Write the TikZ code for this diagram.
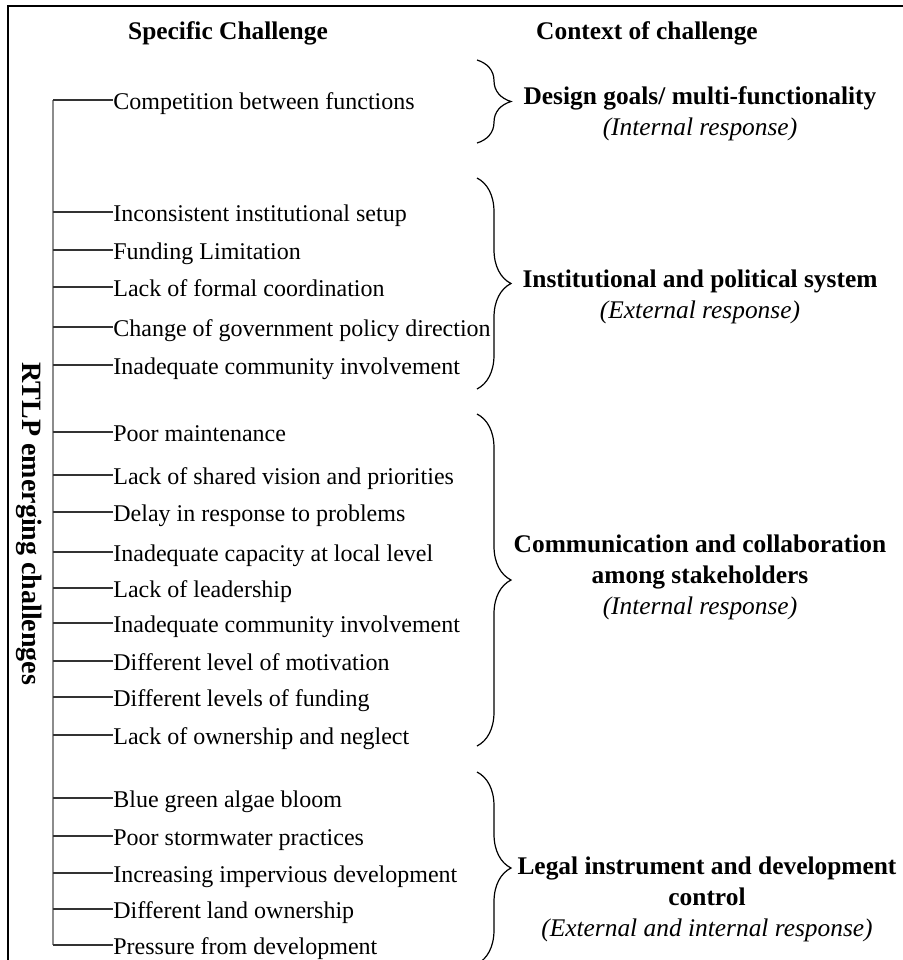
\documentclass[tikz,border=0pt]{standalone}
\usepackage{fontspec}
\setmainfont{Liberation Serif}
\usetikzlibrary{positioning, decorations.pathreplacing}

\begin{document}
\begin{tikzpicture}[
        x=0.5pt, y=-0.5pt,
        item/.style={
          anchor=west,
          inner sep=0pt,
          text height=9.4pt,
          text depth=0pt,
          font=\fontsize{12}{14}\selectfont
        },
        head/.style={
          inner sep=0pt,
          font=\fontsize{12.7}{15}\selectfont\bfseries
        },
        context/.style={
          align=center,
          inner sep=0pt,
          font=\fontsize{12.7}{15.5}\selectfont
        },
        tick/.style={
          draw=black!80,
          line width=0.6pt
        },
        trunk/.style={
          draw=black!45,
          line width=1.1pt
        },
        brace/.style={
          decorate,
          decoration={brace, amplitude=17pt, aspect=0.5},
          line width=0.6pt
        }
      ]
      \useasboundingbox (0,0) rectangle (903,960);
      \draw [line width=1pt] (8,6) rectangle (915,975);

      % Headings
      \node [head] (h1) at (228,33) {Specific Challenge};
      \node [head] (h2) at (647,33) {Context of challenge};

      % Root
      \node [head, rotate=-90, font=\fontsize{14}{16}\selectfont\bfseries] (root) at (29,524) {RTLP emerging challenges};
      \coordinate (trunk) at (53,0);

      % Challenges
      \node [item] (c1) at (113,100) {Competition between functions};
      \node [item] (c2) at (113,212) {Inconsistent institutional setup};
      \node [item] (c3) at (113,250) {Funding Limitation};
      \node [item] (c4) at (113,287) {Lack of formal coordination};
      \node [item] (c5) at (113,327) {Change of government policy direction};
      \node [item] (c6) at (113,365) {Inadequate community involvement};
      \node [item] (c7) at (113,432) {Poor maintenance};
      \node [item] (c8) at (113,475) {Lack of shared vision and priorities};
      \node [item] (c9) at (113,512) {Delay in response to problems};
      \node [item] (c10) at (113,552) {Inadequate capacity at local level};
      \node [item] (c11) at (113,588) {Lack of leadership};
      \node [item] (c12) at (113,623) {Inadequate community involvement};
      \node [item] (c13) at (113,661) {Different level of motivation};
      \node [item] (c14) at (113,697) {Different levels of funding};
      \node [item] (c15) at (113,735) {Lack of ownership and neglect};
      \node [item] (c16) at (113,798) {Blue green algae bloom};
      \node [item] (c17) at (113,836) {Poor stormwater practices};
      \node [item] (c18) at (113,873) {Increasing impervious development};
      \node [item] (c19) at (113,909) {Different land ownership};
      \node [item] (c20) at (113,945) {Pressure from development};

      % Tree
      \draw [trunk] (c1.west -| trunk) -- (c20.west -| trunk);
      \foreach \i in {1,...,20}
        \draw [tick] (c\i.west -| trunk) -- (c\i.west);

      % Contexts
      \node [context] (k1) at (700,114) {\textbf{Design goals/ multi-functionality}\\\textit{(Internal response)}};
      \node [context] (k2) at (700,297) {\textbf{Institutional and political system}\\\textit{(External response)}};
      \node [context] (k3) at (700,577) {\textbf{Communication and collaboration}\\\textbf{among stakeholders}\\\textit{(Internal response)}};
      \node [context] (k4) at (707,899) {\textbf{Legal instrument and development}\\\textbf{control}\\\textit{(External and internal response)}};

      % Braces
      \coordinate (b1t) at (477,60);  \coordinate (b1b) at (477,143);
      \coordinate (b2t) at (477,178); \coordinate (b2b) at (477,389);
      \coordinate (b3t) at (477,414); \coordinate (b3b) at (477,746);
      \coordinate (b4t) at (477,772); \coordinate (b4b) at (477,964);
      \draw [brace] (b1t) -- (b1b);
      \draw [brace] (b2t) -- (b2b);
      \draw [brace] (b3t) -- (b3b);
      \draw [brace] (b4t) -- (b4b);

    \end{tikzpicture}
\end{document}
